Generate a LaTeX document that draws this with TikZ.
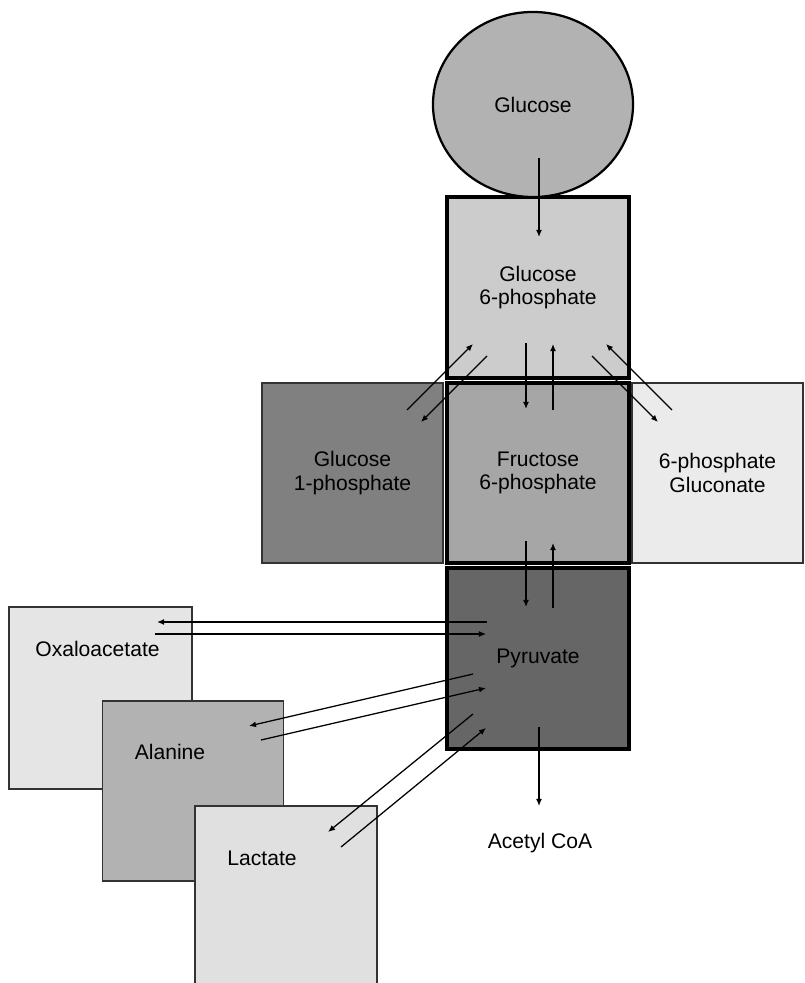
\documentclass[tikz,border=0pt]{standalone}
\usepackage{fontspec}
\setmainfont{Liberation Sans}
\usetikzlibrary{arrows.meta,shapes.geometric}

\begin{document}
\begin{tikzpicture}[x=0.025cm, y=-0.025cm,
        every node/.style={font=\fontsize{15}{16.5}\selectfont, align=center},
        pool/.style={draw=black!80, line width=0.8pt, minimum width=4.525cm, minimum height=4.5cm},
        mainpool/.style={draw=black, line width=2.2pt, minimum width=4.55cm, minimum height=4.5cm},
        flux/.style={-{Latex[length=5pt,width=4.2pt]}, line width=0.9pt}]
        \useasboundingbox (0,0) rectangle (804,983);

        % Side pools, back to front
        \node[pool, fill=black!10, minimum width=4.575cm, minimum height=4.55cm] (oxa) at (100.5,698) {};
        \node[pool, fill=black!30] (ala) at (193,791) {};
        \node[pool, fill=black!12, minimum width=4.55cm] (lac) at (286,896) {};
        \node (oxatext) at (97.5,649) {Oxaloacetate};
        \node (alatext) at (170,752) {Alanine};
        \node (lactext) at (262,858) {Lactate};

        % Main chain
        \node[mainpool, fill=black!20, minimum height=4.525cm] (g6p) at (538,287.5) {Glucose\\6-phosphate};
        \node[mainpool, fill=black!35] (f6p) at (538,473) {Fructose\\6-phosphate};
        \node[mainpool, fill=black!60, minimum height=4.525cm] (pyr) at (538,658.5) {Pyruvate};
        \node[ellipse, draw=black, line width=1.6pt, fill=black!30, minimum width=5cm, minimum height=4.625cm] (glc) at (533,104.5) {Glucose};
        \node[pool, fill=black!50] (g1p) at (352.5,473) {Glucose\\1-phosphate};
        \node[pool, fill=black!8, minimum width=4.275cm] (gcn) at (717.5,473) {6-phosphate\\Gluconate};
        \node (acoa) at (540,843) {Acetyl CoA};

        % Fluxes
        \draw[flux] ([shift={(6,53.5)}]glc.center) -- ([shift={(1,-50.5)}]g6p.center);
        \draw[flux] ([shift={(-12,55.5)}]g6p.center) -- ([shift={(-12,-64)}]f6p.center);
        \draw[flux] ([shift={(15,-63)}]f6p.center) -- ([shift={(15,56.5)}]g6p.center);
        \draw[flux] ([shift={(54.5,-63)}]g1p.center) -- ([shift={(-65,56.5)}]g6p.center);
        \draw[flux] ([shift={(-51,68.5)}]g6p.center) -- ([shift={(68.5,-51)}]g1p.center);
        \draw[flux] ([shift={(-45.5,-63)}]gcn.center) -- ([shift={(68,56.5)}]g6p.center);
        \draw[flux] ([shift={(54,68.5)}]g6p.center) -- ([shift={(-59.5,-51)}]gcn.center);
        \draw[flux] ([shift={(-12,68)}]f6p.center) -- ([shift={(-12,-51.5)}]pyr.center);
        \draw[flux] ([shift={(15,-50.5)}]pyr.center) -- ([shift={(15,70)}]f6p.center);

        % Exchange with the side pools
        \draw[flux] ([shift={(-51,-36.5)}]pyr.center) -- ([shift={(56.5,-76)}]oxa.center);
        \draw[flux] ([shift={(54.5,-64)}]oxa.center) -- ([shift={(-52,-24.5)}]pyr.center);
        \draw[flux] ([shift={(-65,15.5)}]pyr.center) -- ([shift={(56,-65)}]ala.center);
        \draw[flux] ([shift={(68,-51)}]ala.center) -- ([shift={(-52,29.5)}]pyr.center);
        \draw[flux] ([shift={(-65,55.5)}]pyr.center) -- ([shift={(42,-64)}]lac.center);
        \draw[flux] ([shift={(55,-49)}]lac.center) -- ([shift={(-52,69.5)}]pyr.center);
        \draw[flux] ([shift={(1,68.5)}]pyr.center) -- ([shift={(-1,-37)}]acoa.center);
    \end{tikzpicture}
\end{document}
